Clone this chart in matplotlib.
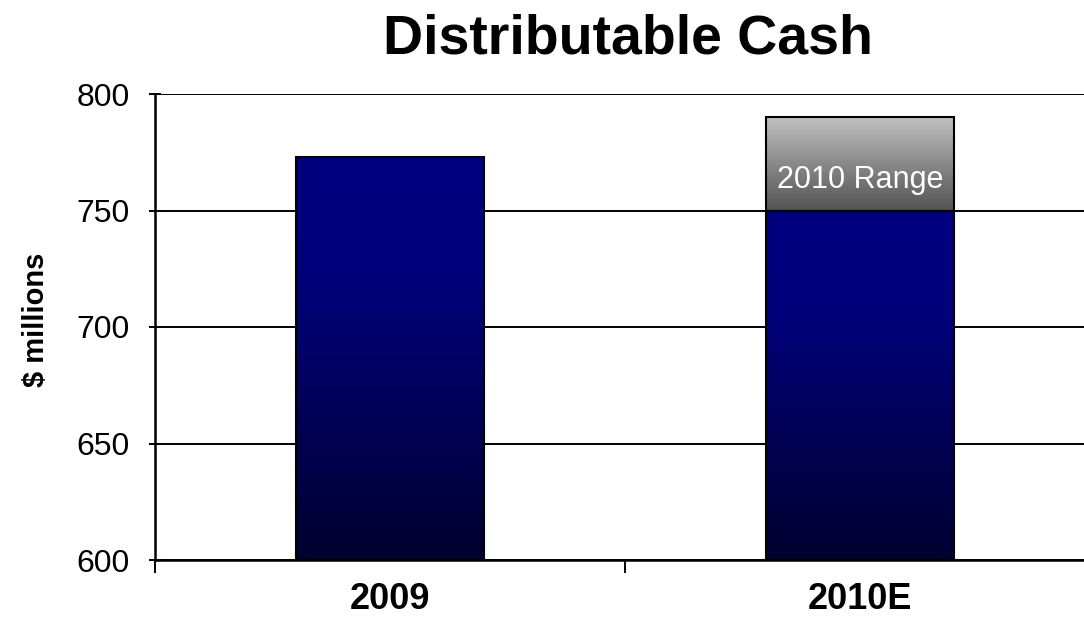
import numpy as np
import matplotlib.pyplot as plt
from matplotlib.colors import LinearSegmentedColormap

plt.rcParams['font.family'] = ['Liberation Sans', 'DejaVu Sans']

# distributable cash, $ millions
years = ["2009", "2010E"]
cash = [773, 750]
range_low = 750
range_high = 790
range_label = "2010 Range"

blue_cmap = LinearSegmentedColormap.from_list(
    "blue", [(0.0, "#000030"), (0.7, "#00007a"), (1.0, "#000080")])
gray_cmap = LinearSegmentedColormap.from_list(
    "gray", ["#545454", "#8a8a8a", "#c2c2c2"])

fig = plt.figure(figsize=(10.84, 6.27), dpi=100)
ax = fig.add_axes([155 / 1084, 1 - 560 / 627, 940 / 1084, 466 / 627])

x = np.arange(len(years))
width = 0.40


def gradient_bars(rects, cmap):
    grad = np.linspace(0, 1, 256).reshape(-1, 1)
    for r in rects:
        x0, y0 = r.get_x(), r.get_y()
        x1, y1 = x0 + r.get_width(), y0 + r.get_height()
        im = ax.imshow(grad, cmap=cmap, origin="lower", aspect="auto",
                       extent=(x0, x1, y0, y1), zorder=2)
        im.set_clip_path(r)
        r.set_facecolor("none")


base = ax.bar(x, [c - 600 for c in cash], bottom=600, width=width,
              edgecolor="black", linewidth=1.5, zorder=3)
gradient_bars(base, blue_cmap)

top = ax.bar([x[1]], [range_high - range_low], bottom=range_low, width=width,
             edgecolor="black", linewidth=1.5, zorder=3)
gradient_bars(top, gray_cmap)

ax.text(x[1], range_low + 13, range_label, color="white",
        fontsize=22, ha="center", va="center", zorder=4)

ax.set_xlim(-0.5, 1.5)
ax.set_ylim(600, 800)
ax.set_yticks([600, 650, 700, 750, 800])
ax.yaxis.grid(True, color="black", linewidth=1.4)
ax.set_axisbelow(True)

ax.set_xticks(x)
ax.set_xticklabels(years, fontsize=26, fontweight="bold")
ax.set_xticks([-0.5, 0.5, 1.5], minor=True)
ax.tick_params(axis="x", which="major", length=0, pad=16)
ax.tick_params(axis="x", which="minor", length=9, width=1.4, direction="out")
ax.tick_params(axis="y", labelsize=23, length=8, width=1.4,
               direction="inout", pad=14)

for s in ["top", "right"]:
    ax.spines[s].set_visible(False)
for s in ["left", "bottom"]:
    ax.spines[s].set_linewidth(1.8)

ax.set_ylabel("$ millions", fontsize=21, fontweight="bold")
ax.yaxis.set_label_coords(-0.112, 0.515)

fig.text(628 / 1084, 1 - 53 / 627, "Distributable Cash", fontsize=40,
         fontweight="bold", ha="center", va="baseline")

fig.savefig("out.png", dpi=100)
